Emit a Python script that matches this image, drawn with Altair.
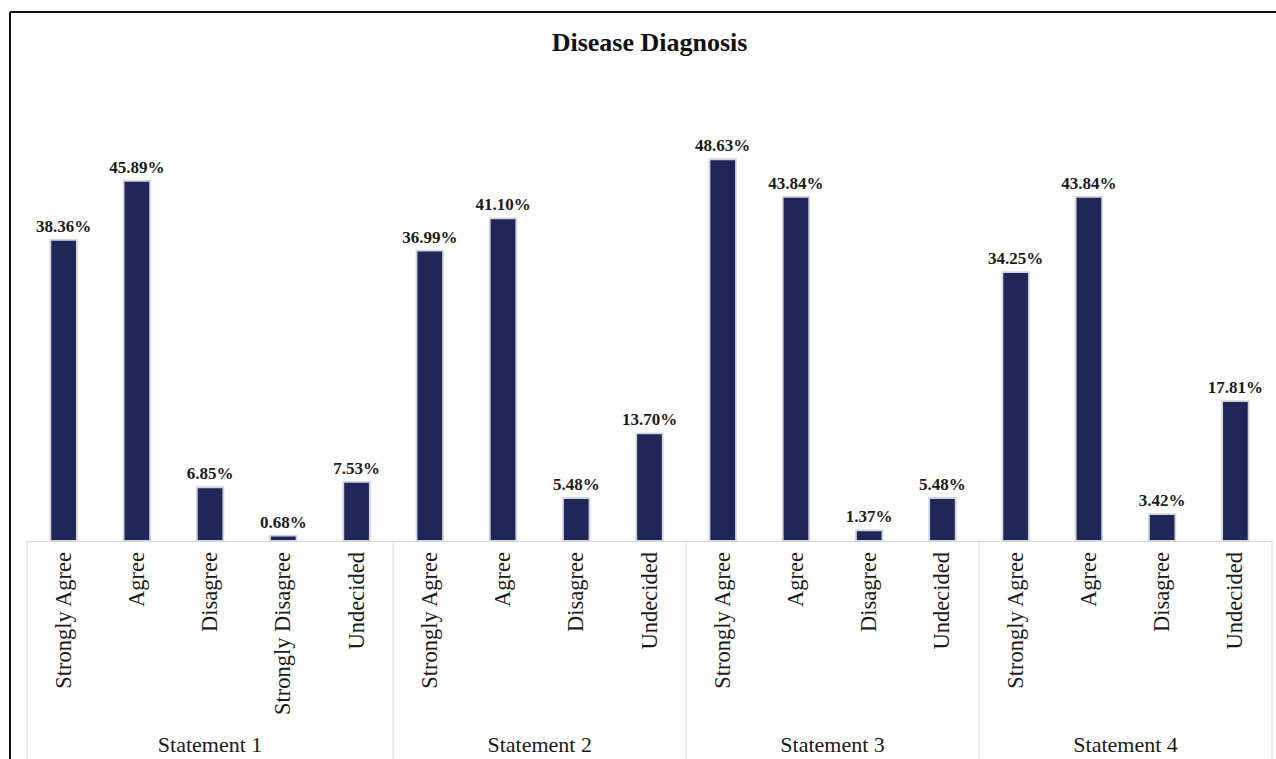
import altair as alt
import pandas as pd

# Survey answers per statement
groups = ["Statement 1", "Statement 2", "Statement 3", "Statement 4"]
responses = [
    ["Strongly Agree", "Agree", "Disagree", "Strongly Disagree", "Undecided"],
    ["Strongly Agree", "Agree", "Disagree", "Undecided"],
    ["Strongly Agree", "Agree", "Disagree", "Undecided"],
    ["Strongly Agree", "Agree", "Disagree", "Undecided"],
]
percentages = [
    [38.36, 45.89, 6.85, 0.68, 7.53],
    [36.99, 41.10, 5.48, 13.70],
    [48.63, 43.84, 1.37, 5.48],
    [34.25, 43.84, 3.42, 17.81],
]
chart_title = "Disease Diagnosis"

# Flatten into one table; each category occupies one unit on the x scale
rows, group_rows, bounds = [], [], [0]
i = 0
for g, resp, vals in zip(groups, responses, percentages):
    start = i
    for r, v in zip(resp, vals):
        rows.append({"statement": g, "response": r, "value": v, "pos": i + 0.5})
        i += 1
    group_rows.append({"statement": g, "center": (start + i) / 2})
    bounds.append(i)

df = pd.DataFrame(rows)
groups_df = pd.DataFrame(group_rows)
bounds_df = pd.DataFrame({"b": bounds})
n_total = i

W, H = 1245, 471
SERIF = "Liberation Serif"
NAVY = "#1f2759"

x_scale = alt.Scale(domain=[0, n_total], nice=False, zero=False, padding=0)
x_axis = alt.Axis(labels=False, ticks=False, grid=False, title=None,
                  domainColor="#d9d9d9", domainWidth=1)
y_scale = alt.Scale(domain=[0, 60], nice=False)

base = alt.Chart(df)

bars = base.mark_bar(size=26.5, color=NAVY, stroke="#d3d5dc", strokeWidth=1.8).encode(
    x=alt.X("pos:Q", scale=x_scale, axis=x_axis),
    y=alt.Y("value:Q", scale=y_scale, axis=None),
)

value_labels = base.transform_calculate(
    label="format(datum.value, '.2f') + '%'"
).mark_text(
    font=SERIF, fontSize=17, fontWeight="bold", color="#1a1a1a",
    baseline="alphabetic", dy=-8,
).encode(
    x=alt.X("pos:Q", scale=x_scale),
    y=alt.Y("value:Q", scale=y_scale),
    text="label:N",
)

category_labels = base.mark_text(
    font=SERIF, fontSize=22.5, color="#1a1a1a", angle=270,
    align="right", baseline="middle",
).encode(
    x=alt.X("pos:Q", scale=x_scale),
    y=alt.value(H + 11),
    text="response:N",
)

separators = alt.Chart(bounds_df).mark_rule(color="#d9d9d9", strokeWidth=1).encode(
    x=alt.X("b:Q", scale=x_scale),
    y=alt.value(H),
    y2=alt.value(H + 240),
)

group_labels = alt.Chart(groups_df).mark_text(
    font=SERIF, fontSize=22, color="#1a1a1a", baseline="middle",
).encode(
    x=alt.X("center:Q", scale=x_scale),
    y=alt.value(H + 204),
    text="statement:N",
)

single = alt.Data(values=[{"title": chart_title}])

title_mark = alt.Chart(single).mark_text(
    font=SERIF, fontSize=26, fontWeight="bold", color="#111111",
    align="center", baseline="alphabetic",
).encode(
    x=alt.value(W / 2), y=alt.value(-19), text="title:N"
)

frame_top = alt.Chart(single).mark_rule(color="#111111", strokeWidth=2).encode(
    x=alt.value(-17), x2=alt.value(W + 60), y=alt.value(-58)
)
frame_left = alt.Chart(single).mark_rule(color="#111111", strokeWidth=2).encode(
    x=alt.value(-17), y=alt.value(-58), y2=alt.value(H + 260)
)

chart = alt.layer(
    separators, bars, value_labels, category_labels, group_labels,
    title_mark, frame_top, frame_left
).properties(
    width=W,
    height=H,
    padding={"left": 27, "top": 70, "right": 4, "bottom": 218},
    autosize=alt.AutoSizeParams(type="none"),
    background="white",
).configure_view(stroke=None)

chart.save("out.html", embed_options={"renderer": "svg", "actions": False})
